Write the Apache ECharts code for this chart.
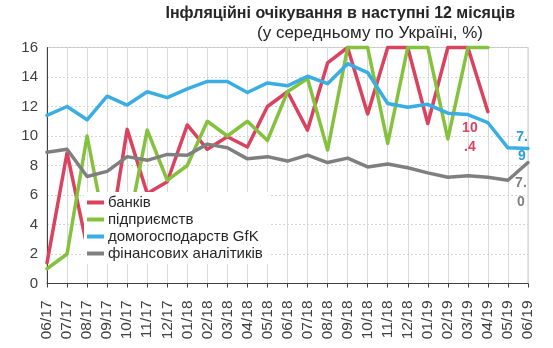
<!DOCTYPE html>
<html>
<head>
<meta charset="utf-8">
<script src="https://cdn.jsdelivr.net/npm/echarts@6/dist/echarts.min.js"></script>
<style>
  html, body { margin: 0; padding: 0; background: #fff; }
  #chart { width: 553px; height: 348px; }
</style>
</head>
<body>
<div id="chart"></div>
<script>
// Months on the horizontal axis
const months = ['06/17','07/17','08/17','09/17','10/17','11/17','12/17',
  '01/18','02/18','03/18','04/18','05/18','06/18','07/18','08/18','09/18',
  '10/18','11/18','12/18','01/19','02/19','03/19','04/19','05/19','06/19'];

// Expected inflation over the next 12 months, %
const banks = [1.4, 8.85, 2.5, 2.0, 10.45, 6.1, 6.9, 10.75, 9.1, 9.95, 9.25, 12.0,
  13.0, 10.4, 14.95, 16, 11.5, 16, 16, 10.85, 16, 16, 11.65, null, null];
const firms = [1.0, 2.0, 10.0, 3.0, 3.5, 10.4, 7.0, 8.0, 11.0, 10.0, 11.0, 9.7,
  13.0, 13.9, 9.05, 16, 16, 9.5, 16, 16, 9.8, 16, 16, null, null];
const households = [11.4, 12.0, 11.1, 12.7, 12.1, 13.0, 12.6, 13.2, 13.7, 13.7,
  12.95, 13.6, 13.4, 14.05, 13.55, 14.9, 14.3, 12.2, 11.95, 12.15, 11.55, 11.45,
  10.9, 9.2, 9.15];
const analysts = [8.9, 9.1, 7.25, 7.6, 8.6, 8.35, 8.75, 8.7, 9.45, 9.2, 8.45, 8.6,
  8.3, 8.7, 8.2, 8.5, 7.9, 8.1, 7.85, 7.5, 7.2, 7.3, 7.2, 7.0, 8.2];

const seriesNames = ['банків', 'підприємств', 'домогосподарств GfK', 'фінансових аналітиків'];
const yTicks = [0, 2, 4, 6, 8, 10, 12, 14, 16];

// End-of-line annotations
const banksNote = '10.4';
const householdsNote = '7.9';

const colors = ['#d9435f', '#84c23e', '#3aade3', '#7f7f7f'];
const FONT = '"Liberation Sans", Arial, sans-serif';

const chart = echarts.init(document.getElementById('chart'), null, { renderer: 'canvas' });

function lineSeries(name, data, color) {
  return {
    name: name,
    type: 'line',
    data: data,
    clip: false,
    showSymbol: false,
    symbol: 'none',
    animation: false,
    lineStyle: { color: color, width: 3.5, join: 'round', cap: 'round' },
    itemStyle: { color: color },
    emphasis: { disabled: true }
  };
}

chart.setOption({
  animation: false,
  textStyle: { fontFamily: FONT },
  title: [
    {
      text: 'Інфляційні очікування в наступні 12 місяців',
      right: 38, top: 6, padding: 0,
      textStyle: { fontFamily: FONT, fontSize: 16, fontWeight: 'bold', color: '#262626' }
    },
    {
      text: '(у середньому по Україні, %)',
      right: 70, top: 25, padding: 0,
      textStyle: { fontFamily: FONT, fontSize: 17, fontWeight: 'normal', color: '#262626' }
    }
  ],
  legend: {
    orient: 'vertical',
    left: 84, top: 192,
    data: seriesNames,
    backgroundColor: '#ffffff',
    padding: [3, 6, 3, 3],
    itemWidth: 17, itemHeight: 4, itemGap: 2,
    icon: 'rect',
    textStyle: { fontFamily: FONT, fontSize: 15, color: '#262626', padding: [0, 0, 0, -1] },
    selectedMode: false
  },
  grid: {
    left: 47, right: 25, top: 47.5, bottom: 64.5,
    show: true, borderColor: '#c8c8c8', borderWidth: 1
  },
  xAxis: {
    type: 'category',
    data: months,
    boundaryGap: false,
    axisLine: { lineStyle: { color: '#404040', width: 1 } },
    axisTick: { show: true, length: 4, interval: 0, lineStyle: { color: '#404040' } },
    axisLabel: {
      interval: 0, rotate: 90, fontSize: 15.5, color: '#404040', margin: 17,
      fontFamily: FONT, hideOverlap: false
    },
    splitLine: { show: true, interval: 0, lineStyle: { color: '#d9d9d9', width: 1 } }
  },
  yAxis: {
    type: 'value',
    min: yTicks[0], max: yTicks[yTicks.length - 1], interval: yTicks[1] - yTicks[0],
    axisLine: { show: true, lineStyle: { color: '#404040', width: 1 } },
    axisTick: { show: false },
    axisLabel: { fontSize: 15, color: '#404040', margin: 9, fontFamily: FONT },
    splitLine: { show: true, lineStyle: { color: '#d4d4d4', type: [2, 2], width: 1 } }
  },
  series: [
    lineSeries(seriesNames[0], banks, colors[0]),
    lineSeries(seriesNames[1], firms, colors[1]),
    lineSeries(seriesNames[2], households, colors[2]),
    lineSeries(seriesNames[3], analysts, colors[3])
  ]
});

// Wrapped annotation text placed next to a point on the chart scales
function splitNote(s, at) { return s.slice(0, at) + '\n' + s.slice(at); }
function note(text, color, cat, val, dx, dy) {
  const p = chart.convertToPixel({ xAxisIndex: 0, yAxisIndex: 0 }, [cat, val]);
  return {
    type: 'text', x: p[0] + dx, y: p[1] + dy, z: 10,
    style: {
      text: text, fill: color, fontFamily: FONT, fontSize: 14, fontWeight: 'bold',
      align: 'center', verticalAlign: 'middle', lineHeight: 19
    }
  };
}

const last = months.length - 1;
const analystsNote = analysts[last - 1].toFixed(1);
chart.setOption({
  graphic: [
    note(splitNote(banksNote, 2), '#d9435f', 21, 10.4, 2, 8),
    note(splitNote(householdsNote, 2), '#2a9fd8', last, households[last], -6, -2),
    note(splitNote(analystsNote, 2), '#7f7f7f', last - 1, analysts[last - 1], 13, 12)
  ]
});
</script>
</body>
</html>
